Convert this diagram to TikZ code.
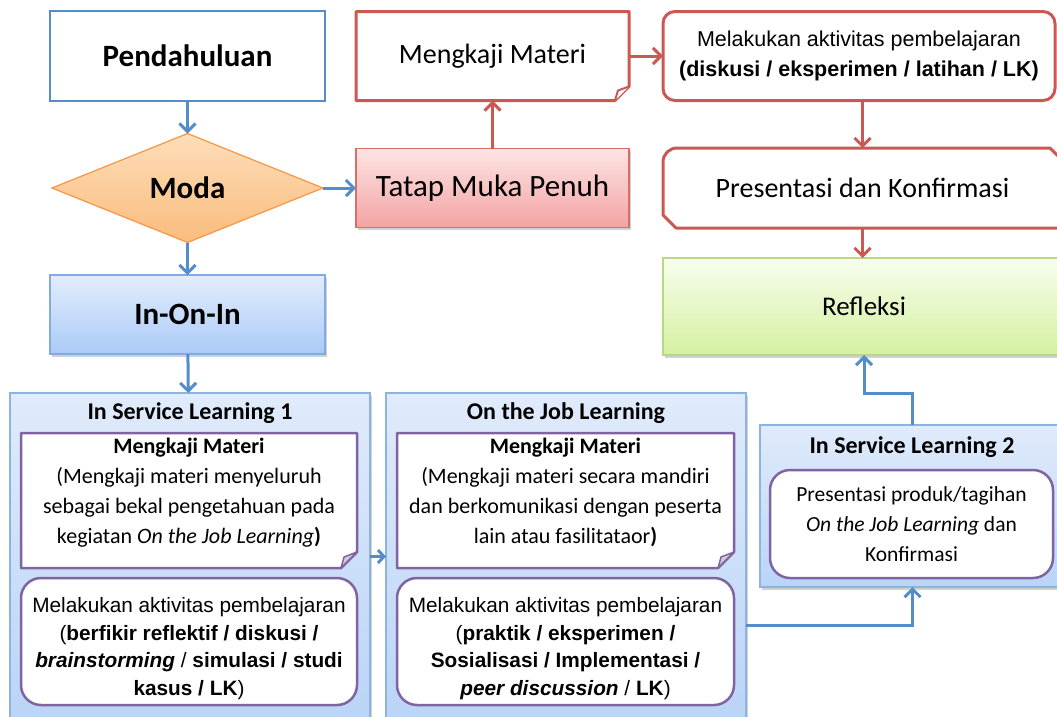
\documentclass[tikz,border=0pt]{standalone}
\usepackage{fontspec}
\setmainfont{Carlito}
\newfontfamily\arialf{Liberation Sans}
\usetikzlibrary{arrows.meta,shapes.geometric,shadows,calc}
\pgfdeclarelayer{back}
\pgfdeclarelayer{mid}
\pgfsetlayers{back,mid,main}
\definecolor{bluel}{RGB}{84,141,201}
\definecolor{grpb}{RGB}{141,179,226}
\definecolor{grpt}{RGB}{224,235,251}
\definecolor{grpbot}{RGB}{186,212,247}
\definecolor{redl}{RGB}{204,88,84}
\definecolor{purl}{RGB}{128,100,162}
\definecolor{orl}{RGB}{247,150,70}
\definecolor{ort}{RGB}{253,222,185}
\definecolor{orb}{RGB}{250,188,125}
\definecolor{pkt}{RGB}{253,228,228}
\definecolor{pkb}{RGB}{243,163,163}
\definecolor{pkl}{RGB}{216,110,106}
\definecolor{grt}{RGB}{248,253,238}
\definecolor{grb}{RGB}{212,241,160}
\definecolor{grl}{RGB}{186,216,130}
\definecolor{iot}{RGB}{227,237,252}
\definecolor{iob}{RGB}{170,202,247}
\definecolor{iol}{RGB}{130,172,225}
\definecolor{foldg}{RGB}{205,205,210}
\begin{document}
\begin{tikzpicture}[x=1pt,y=-1pt,
  every node/.style={inner sep=0pt,outer sep=0pt,align=center},
  txtcal/.style={font=\fontsize{28}{34}\selectfont},
  txtbold/.style={font=\bfseries\fontsize{31}{36}\selectfont},
  txtttl/.style={font=\bfseries\fontsize{24}{28}\selectfont},
  txtin/.style={font=\fontsize{22}{30}\selectfont},
  txtari/.style={font=\arialf\fontsize{20.8}{27.7}\selectfont},
  shdw/.style={drop shadow={shadow xshift=1.5pt,shadow yshift=-2.5pt,opacity=0.3,fill=black!60}},
  barr/.style={draw=bluel,line width=3pt,-{Straight Barb[length=8pt,width=16pt]}},
  rarr/.style={draw=redl,line width=3pt,-{Straight Barb[length=8pt,width=16pt]}},
  grpbox/.style={draw=grpb,line width=1.2pt,top color=grpt,bottom color=grpbot,shdw},
  rndbox/.style={draw=purl,line width=2.5pt,fill=white,rounded corners=20pt}
]
\useasboundingbox (0,0) rectangle (1057,716);
\clip (0,0) rectangle (1057,716);

% group boxes
\begin{pgfonlayer}{back}
\node[grpbox,minimum width=360pt,minimum height=327pt] (isl1) at (190,556.5) {};
\node[grpbox,minimum width=360pt,minimum height=327pt] (ojl) at (566,556.5) {};
\node[grpbox,minimum width=305pt,minimum height=162pt] (isl2) at (912.5,506) {};
\end{pgfonlayer}

% top row
\node[txtbold,draw=bluel,line width=2.5pt,fill=white,minimum width=275pt,minimum height=90pt] (pend) at (187.5,56) {Pendahuluan};
\node[txtcal,minimum width=273pt,minimum height=89pt] (mk) at (492.5,56) {Mengkaji Materi};
\node[font=\arialf\fontsize{21.5}{30}\selectfont,draw=redl,line width=3pt,fill=white,rounded corners=12pt,minimum width=392pt,minimum height=89pt] (mel) at (859,56) {Melakukan aktivitas pembelajaran\\\textbf{(diskusi / eksperimen / latihan / LK)}};

% second row
\node[diamond,aspect=2.5,txtbold,draw=orl,line width=1.2pt,top color=ort,bottom color=orb,minimum width=271pt,minimum height=109pt] (moda) at (187.5,188) {Moda};
\node[font=\fontsize{31}{36}\selectfont,draw=pkl,line width=1.2pt,top color=pkt,bottom color=pkb,shdw,minimum width=273pt,minimum height=79pt] (tatap) at (492.5,188) {Tatap Muka Penuh};
\node[txtcal,minimum width=399pt,minimum height=80pt] (pres) at (862.5,188) {Presentasi dan Konfirmasi};

% third row
\node[txtbold,draw=iol,line width=1.2pt,top color=iot,bottom color=iob,shdw,minimum width=275pt,minimum height=79pt] (ioi) at (187.5,314.5) {In-On-In};
\node[font=\fontsize{27}{32}\selectfont,draw=grl,line width=1.2pt,top color=grt,bottom color=grb,shdw,minimum width=402pt,minimum height=97pt] (refl) at (864,306.5) {Refleksi};

% group titles
\node[txtttl] (isl1t) at (190,413) {In Service Learning 1};
\node[txtttl] (ojlt) at (566,413) {On the Job Learning};
\node[txtttl] (isl2t) at (912,447) {In Service Learning 2};

% callout frames
\node[minimum width=336pt,minimum height=135pt] (c1) at (189,500.5) {};
\node[minimum width=337pt,minimum height=135pt] (c2) at (565.5,500.5) {};

\begin{pgfonlayer}{mid}
\foreach \n in {c1,c2} {
  \draw[purl,line width=2.5pt,fill=white,line join=round] (\n.north west) -- (\n.north east) -- ($(\n.south east)+(0,-16)$) -- ($(\n.south east)+(-16,0)$) -- (\n.south west) -- cycle;
  \draw[purl,line width=1.5pt,fill=foldg,line join=round] ($(\n.south east)+(0,-16)$) -- ($(\n.south east)+(-13,-11)$) -- ($(\n.south east)+(-16,0)$) -- cycle;
}
\draw[redl,line width=3pt,fill=white,line join=round] (mk.north west) -- (mk.north east) -- ($(mk.south east)+(0,-14)$) -- ($(mk.south east)+(-14,0)$) -- (mk.south west) -- cycle;
\draw[redl,line width=2pt,fill=white,line join=round] ($(mk.south east)+(0,-14)$) -- ($(mk.south east)+(-11,-10)$) -- ($(mk.south east)+(-14,0)$);
\draw[redl,line width=3pt,fill=white,line join=round] ($(pres.south west)+(0,-13)$) -- ($(pres.north west)+(0,14)$) arc[start angle=180,end angle=270,radius=14] -- ($(pres.north east)+(-12,0)$) -- ($(pres.north east)+(0,12)$) -- (pres.south east) -- ($(pres.south west)+(13,0)$) -- cycle;
\end{pgfonlayer}

\node[txtin] (c1t) at (189,492.5) {\textbf{Mengkaji Materi}\\(Mengkaji materi menyeluruh\\sebagai bekal pengetahuan pada\\kegiatan \textit{On the Job Learning}\textbf{)}};
\node[txtin] (c2t) at (565.5,492.5) {\textbf{Mengkaji Materi}\\(Mengkaji materi secara mandiri\\dan berkomunikasi dengan peserta\\lain atau fasilitataor\textbf{)}};

% lower rounded boxes
\node[rndbox,minimum width=336pt,minimum height=127pt] (r1) at (189,641.5) {};
\node[txtari] (r1t) at (189,648.5) {Melakukan aktivitas pembelajaran\\(\textbf{berfikir reflektif / diskusi /}\\\textbf{\textit{brainstorming}} / \textbf{simulasi / studi}\\\textbf{kasus / LK})};
\node[rndbox,minimum width=337pt,minimum height=127pt] (r2) at (565.5,641.5) {};
\node[txtari] (r2t) at (565.5,648.5) {Melakukan aktivitas pembelajaran\\(\textbf{praktik / eksperimen /}\\\textbf{Sosialisasi / Implementasi /}\\\textbf{\textit{peer discussion}} / \textbf{LK})};
\node[rndbox,font=\fontsize{21.5}{30}\selectfont,minimum width=283pt,minimum height=108pt] (i2) at (911.5,524) {Presentasi produk/tagihan\\\textit{On the Job Learning} dan\\Konfirmasi};

% connectors
\draw[barr] (pend) -- (moda);
\draw[barr] (moda) -- (tatap);
\draw[rarr] (tatap) -- (mk);
\draw[rarr] (mk) -- (mel);
\draw[rarr] (pres.north |- mel.south) -- (pres.north);
\draw[rarr] (pres.south) -- (pres.south |- refl.north);
\draw[barr] (moda) -- (ioi);
\draw[barr] (ioi) -- (isl1);
\draw[draw=bluel,line width=3pt,-{Straight Barb[length=6pt,width=13pt]}] (isl1) -- (ojl);
\draw[barr] ([yshift=-68.5pt]ojl.east) -| (isl2.south);
\draw[barr] (isl2.north) -- ++(0,-32) -| (refl.south);
\end{tikzpicture}
\end{document}
